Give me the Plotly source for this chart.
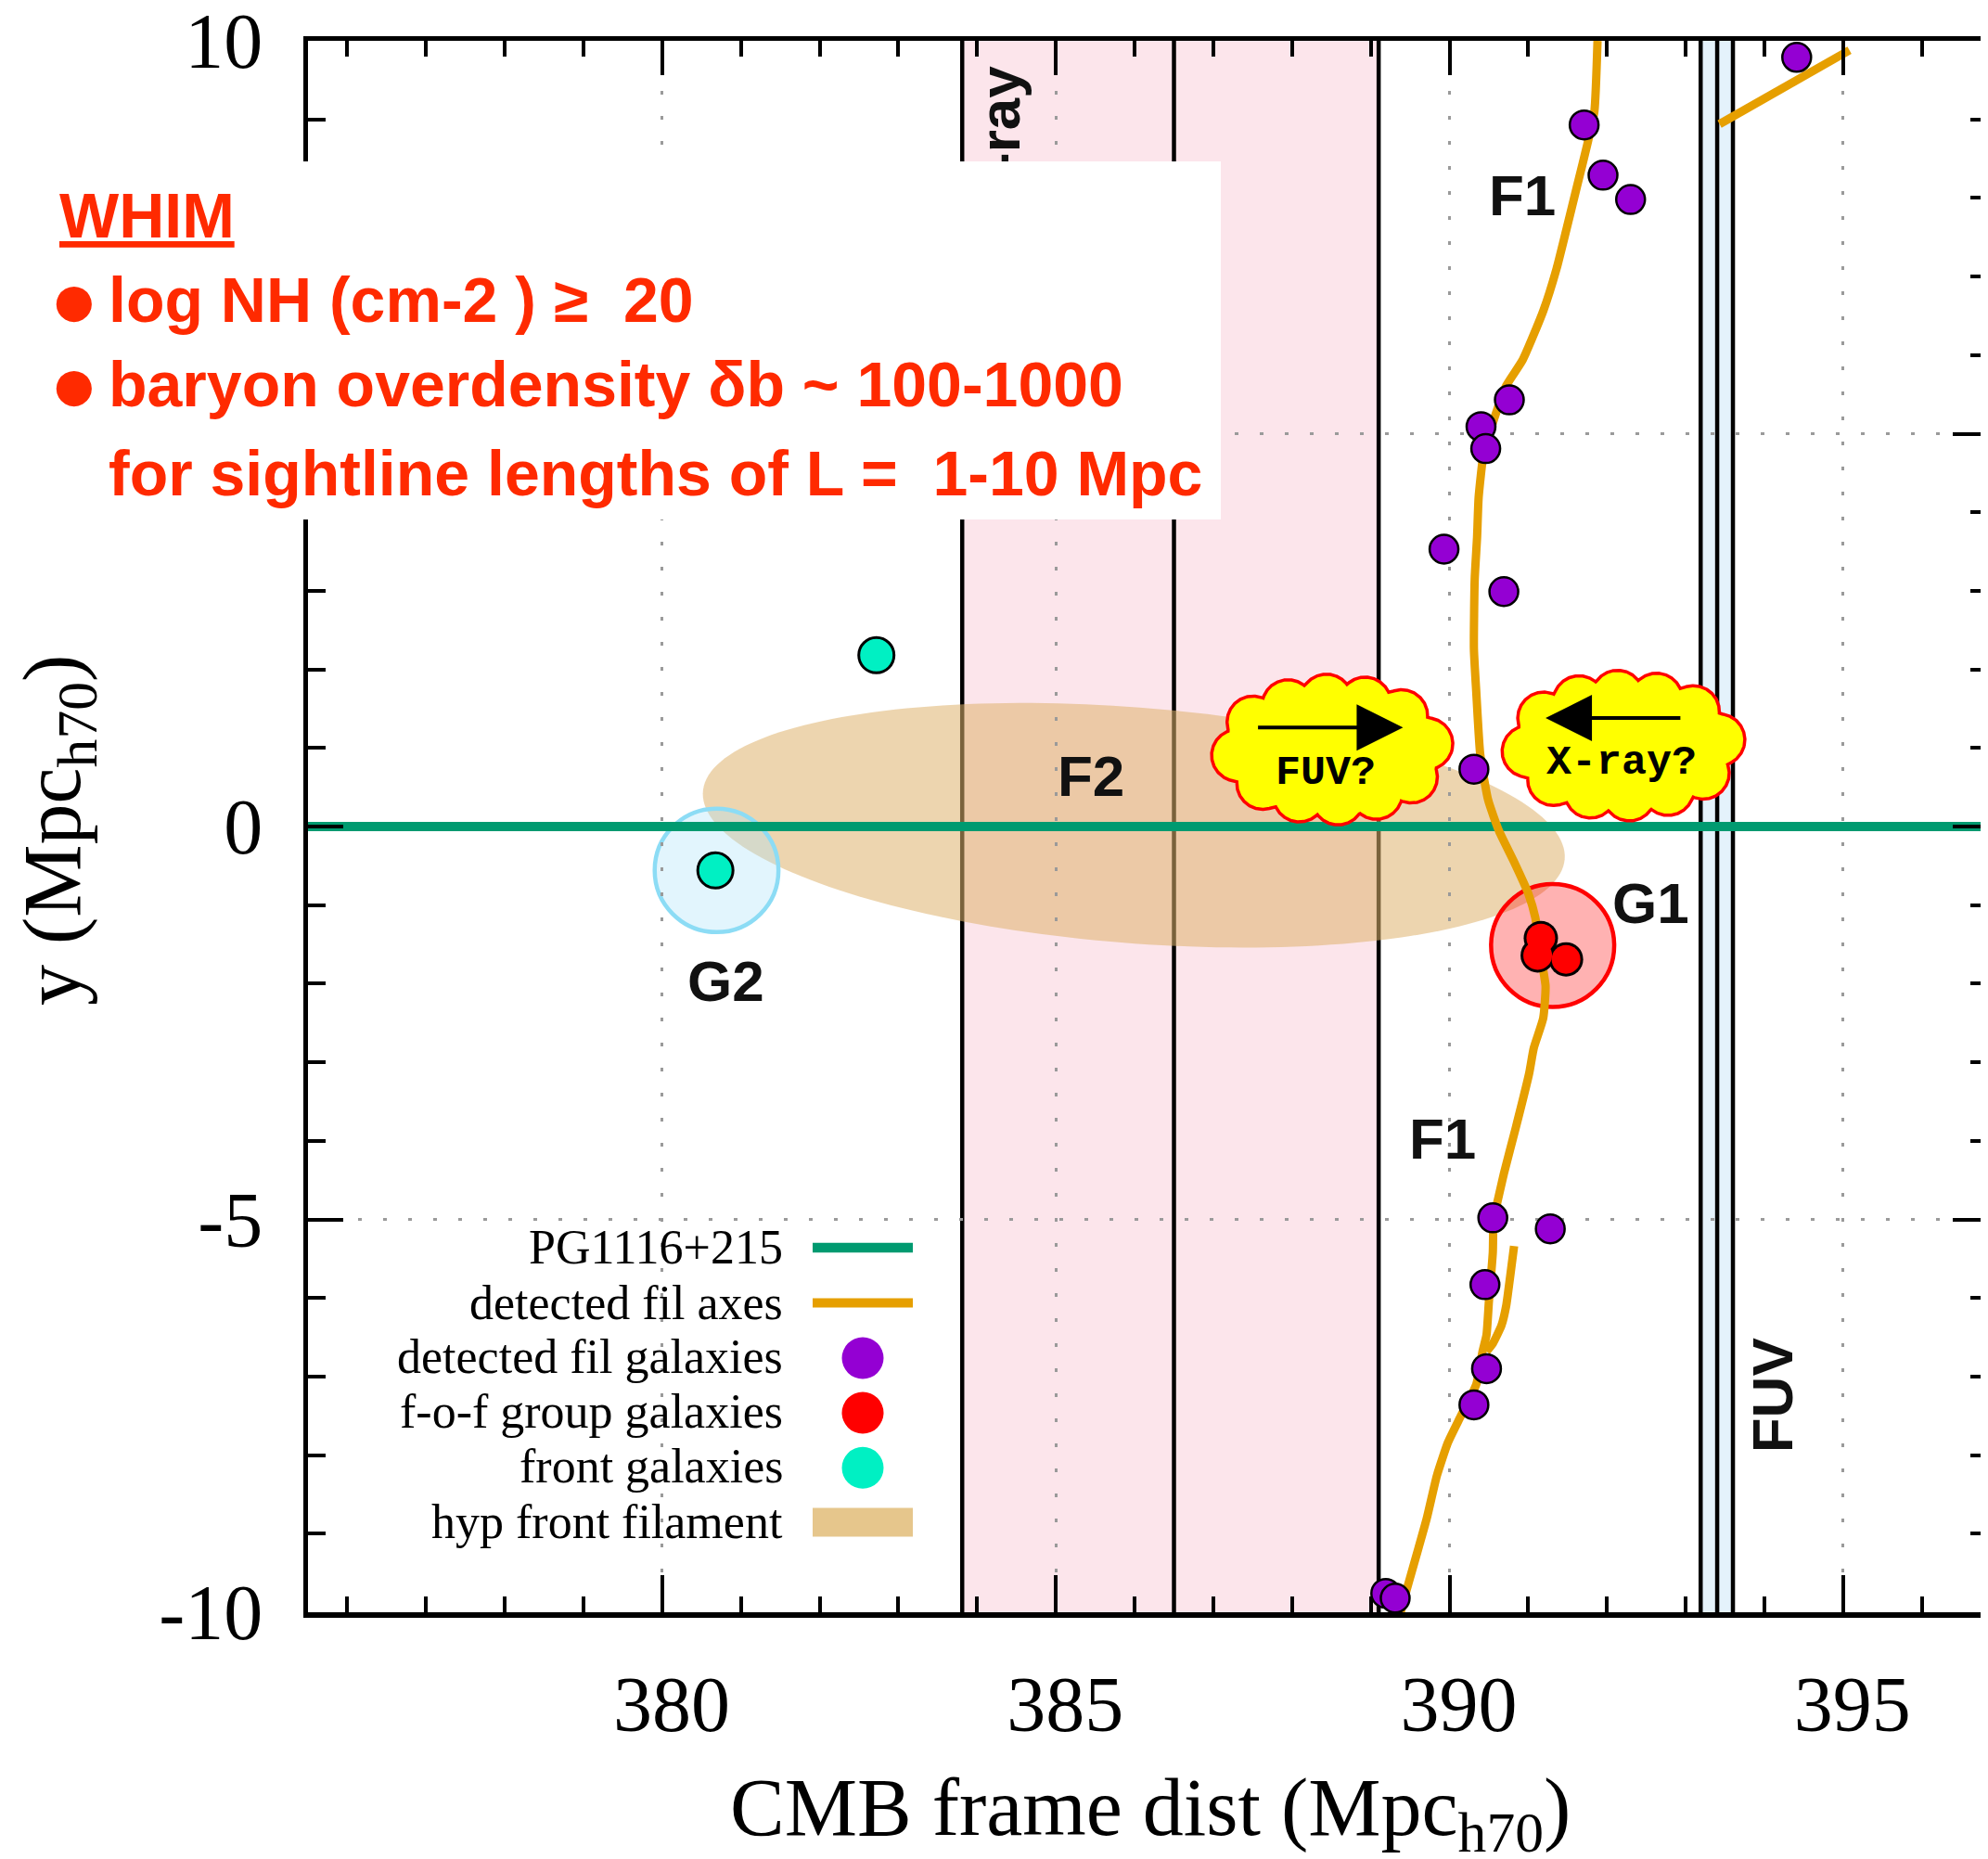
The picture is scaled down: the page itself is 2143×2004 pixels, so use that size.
import numpy as np
import plotly.graph_objects as go

# ---------------- data ----------------
x_range = [375.5, 396.84]
y_range = [-10, 10]
x_tick_vals = [380, 385, 390, 395]
x_tick_text = ["380", "385", "390", "395"]
y_tick_vals = [-10, -5, 0, 5, 10]
y_tick_text = ["-10", "-5", "0", "5", "10"]

# sightline of PG1116+215 at y = 0
sightline_y = 0.0

# detected filament axes (F1 main path, small branch, upper-right piece)
f1_x = [391.88, 391.84, 391.75, 391.62, 391.49, 391.36, 391.19, 390.93, 390.72, 390.59,
        390.50, 390.43, 390.37, 390.35, 390.32, 390.31, 390.34, 390.39, 390.49, 390.63,
        390.82, 391.00, 391.09, 391.16, 391.22, 391.19, 391.07, 391.01, 390.84, 390.69,
        390.61, 390.56, 390.55, 390.50, 390.47, 390.42, 390.34, 390.13, 389.98, 389.84,
        389.71, 389.57, 389.42, 389.38]
f1_y = [10.0, 9.10, 8.68, 8.15, 7.62, 7.10, 6.56, 5.94, 5.61, 5.26,
        4.98, 4.73, 4.19, 3.68, 3.15, 2.26, 1.71, 0.92, 0.34, -0.06,
        -0.45, -0.85, -1.16, -1.65, -2.03, -2.44, -2.82, -3.15, -3.84, -4.42,
        -4.77, -5.00, -5.42, -6.05, -6.47, -6.68, -7.10, -7.53, -7.84, -8.26,
        -8.81, -9.31, -9.84, -10.0]
branch_x = [390.82, 390.77, 390.72, 390.66, 390.55, 390.47]
branch_y = [-5.34, -5.73, -6.10, -6.35, -6.58, -6.68]
f3_x = [393.43, 395.08]
f3_y = [8.94, 9.88]

# detected filament galaxies
fil_gal_x = [394.41, 391.71, 391.95, 392.30, 390.76, 390.40, 390.46, 389.93, 390.69,
             390.31, 390.55, 391.28, 390.45, 390.47, 390.31, 389.19, 389.31]
fil_gal_y = [9.79, 8.93, 8.29, 7.98, 5.43, 5.09, 4.81, 3.53, 2.99,
             0.73, -4.98, -5.12, -5.83, -6.90, -7.36, -9.76, -9.82]

# friends-of-friends group galaxies (G1)
grp_gal_x = [391.16, 391.12, 391.48]
grp_gal_y = [-1.42, -1.64, -1.69]

# front galaxies
front_gal_x = [382.72, 380.675]
front_gal_y = [2.18, -0.558]

# group circles: (x, y, radius)
g1_circle = (391.31, -1.514, 0.782)
g2_circle = (380.69, -0.558, 0.786)

# hypothetical front filament ellipse: centre, semi-axes, tilt (deg)
hyp_center = (385.99, 0.016)
hyp_axes = (5.49, 1.50)
hyp_tilt = -4.5

# absorber bands / lines
xray_band = [383.81, 389.10]
fuv_band = [393.19, 393.60]
vlines = [383.81, 386.50, 389.10, 393.19, 393.40, 393.60]

# clouds: centre x, centre y, half width, half height
fuv_cloud = (388.51, 0.98, 1.54, 0.96)
xray_cloud = (392.21, 1.03, 1.55, 0.96)
fuv_arrow = dict(tail=387.55, head=389.41, y=1.26)
xray_arrow = dict(tail=392.95, head=391.22, y=1.38)

# text labels
labels = [("F1", 390.93, 8.04), ("F1", 389.91, -3.97), ("F2", 385.44, 0.64),
          ("G1", 392.56, -0.97), ("G2", 380.81, -1.97)]

legend_labels = ["PG1116+215", "detected fil axes", "detected fil galaxies",
                 "f-o-f group galaxies", "front galaxies", "hyp front filament"]

whim_lines = ["<u>WHIM</u>",
              "log NH (cm-2 ) ≥  20",
              "baryon overdensity δb ~ 100-1000",
              "for sightline lengths of L =  1-10 Mpc"]
whim_bullets = [False, True, True, False]

# ---------------- styling ----------------
GREEN = "#009a70"
ORANGE = "#e69f00"
PURPLE = "#9400d3"
RED = "#ff0000"
CYAN = "#00f0c3"
TAN_FILL = "rgba(222,178,110,0.55)"
TAN_SWATCH = "#e6c68c"
PINK = "#fce5eb"
LBLUE = "#e4f2fb"
WHIM_RED = "#ff2a00"

W, H = 2143, 2004
OFF = 8  # page body margin
ML, MT = 324, 36
PW, PH = 1811, 1694
MR = W - ML - PW
MB = H - MT - PH


def px(xp):
    """page pixel x -> paper x"""
    return (xp - OFF - ML) / PW


def py(yp):
    """page pixel y -> paper y"""
    return (MT + PH - (yp - OFF)) / PH


def cloud_outline(cx, cy, hx, hy, r=0.33, n=12, offset=0.15):
    A, B = hx - r, hy - r
    t = np.linspace(0, 2 * np.pi, 4000)
    ex, ey = A * np.cos(t), B * np.sin(t)
    s = np.concatenate([[0], np.cumsum(np.hypot(np.diff(ex), np.diff(ey)))])
    targ = (np.arange(n) / n + offset / n) * s[-1]
    bx, by = np.interp(targ, s, ex), np.interp(targ, s, ey)
    phi = np.linspace(0, 2 * np.pi, 1441)
    ux, uy = np.cos(phi), np.sin(phi)
    R = np.full_like(phi, -np.inf)
    for x0, y0 in zip(bx, by):
        p = ux * x0 + uy * y0
        disc = p ** 2 - (x0 ** 2 + y0 ** 2) + r ** 2
        tt = np.where(disc >= 0, p + np.sqrt(np.clip(disc, 0, None)), -np.inf)
        R = np.maximum(R, tt)
    return cx + R * ux, cy + R * uy


fig = go.Figure()

# sightline
fig.add_trace(go.Scatter(x=x_range, y=[sightline_y, sightline_y], mode="lines",
                         line=dict(color=GREEN, width=10), hoverinfo="skip"))
# filament axes
fx = f1_x + [None] + branch_x + [None] + f3_x
fy = f1_y + [None] + branch_y + [None] + f3_y
fig.add_trace(go.Scatter(x=fx, y=fy, mode="lines", connectgaps=False,
                         line=dict(color=ORANGE, width=9, shape="spline", smoothing=0.5),
                         hoverinfo="skip"))
# clouds
for cdef in (fuv_cloud, xray_cloud):
    cx_, cy_ = cloud_outline(*cdef)
    fig.add_trace(go.Scatter(x=cx_, y=cy_, mode="lines", fill="toself",
                             fillcolor="#ffff00", line=dict(color=RED, width=3.5),
                             hoverinfo="skip"))
# filament galaxies
fig.add_trace(go.Scatter(x=fil_gal_x, y=fil_gal_y, mode="markers",
                         marker=dict(color=PURPLE, size=31, line=dict(color="black", width=2.5)),
                         hoverinfo="skip"))
# group galaxies (union outline)
fig.add_trace(go.Scatter(x=grp_gal_x, y=grp_gal_y, mode="markers",
                         marker=dict(color="black", size=37), hoverinfo="skip"))
fig.add_trace(go.Scatter(x=grp_gal_x, y=grp_gal_y, mode="markers",
                         marker=dict(color=RED, size=31), hoverinfo="skip"))
# front galaxies (on overlay axes so top/right ticks exist)
fig.add_trace(go.Scatter(x=front_gal_x, y=front_gal_y, mode="markers", xaxis="x2", yaxis="y2",
                         marker=dict(color=CYAN, size=38, line=dict(color="black", width=3)),
                         hoverinfo="skip"))

shapes = []
shapes.append(dict(type="rect", xref="x", yref="y domain", x0=xray_band[0], x1=xray_band[1],
                   y0=0, y1=1, fillcolor=PINK, line=dict(width=0), layer="below"))
shapes.append(dict(type="rect", xref="x", yref="y domain", x0=fuv_band[0], x1=fuv_band[1],
                   y0=0, y1=1, fillcolor=LBLUE, line=dict(width=0), layer="below"))
# ellipse
tt = np.linspace(0, 2 * np.pi, 200)
th = np.deg2rad(hyp_tilt)
ex = hyp_center[0] + hyp_axes[0] * np.cos(tt) * np.cos(th) - hyp_axes[1] * np.sin(tt) * np.sin(th)
ey = hyp_center[1] + hyp_axes[0] * np.cos(tt) * np.sin(th) + hyp_axes[1] * np.sin(tt) * np.cos(th)
path = "M " + " L ".join(f"{a:.4f},{b:.4f}" for a, b in zip(ex, ey)) + " Z"
shapes.append(dict(type="path", xref="x", yref="y", path=path, fillcolor=TAN_FILL,
                   line=dict(width=0), layer="below"))
for xv in vlines:
    shapes.append(dict(type="line", xref="x", yref="y domain", x0=xv, x1=xv, y0=0, y1=1,
                       line=dict(color="black", width=4.5), layer="below"))
gx, gy, gr = g2_circle
shapes.append(dict(type="circle", xref="x", yref="y", x0=gx - gr, x1=gx + gr, y0=gy - gr, y1=gy + gr,
                   fillcolor="rgba(173,226,250,0.35)", line=dict(color="#8cdcf5", width=4.5),
                   layer="below"))
gx, gy, gr = g1_circle
shapes.append(dict(type="circle", xref="x", yref="y", x0=gx - gr, x1=gx + gr, y0=gy - gr, y1=gy + gr,
                   fillcolor="rgba(255,0,0,0.3)", line=dict(color=RED, width=4.5), layer="below"))

# manual legend symbols (right of text, gnuplot style)
leg_rows = [1345, 1404.5, 1464, 1523, 1582.3, 1641]
sx0, sx1, scx = 876, 984, 930
shapes.append(dict(type="line", xref="paper", yref="paper", x0=px(sx0), x1=px(sx1),
                   y0=py(leg_rows[0]), y1=py(leg_rows[0]), line=dict(color=GREEN, width=10.5),
                   layer="above"))
shapes.append(dict(type="line", xref="paper", yref="paper", x0=px(sx0), x1=px(sx1),
                   y0=py(leg_rows[1]), y1=py(leg_rows[1]), line=dict(color=ORANGE, width=10),
                   layer="above"))
for row, col in zip(leg_rows[2:5], [PURPLE, RED, CYAN]):
    shapes.append(dict(type="circle", xref="paper", yref="paper", xsizemode="pixel",
                       ysizemode="pixel", xanchor=px(scx), yanchor=py(row),
                       x0=-22.5, x1=22.5, y0=-22.5, y1=22.5, fillcolor=col,
                       line=dict(width=0), layer="above"))
shapes.append(dict(type="rect", xref="paper", yref="paper", x0=px(sx0), x1=px(sx1),
                   y0=py(leg_rows[5] + 15.5), y1=py(leg_rows[5] - 15.5), fillcolor=TAN_SWATCH,
                   line=dict(width=0), layer="above"))

annotations = []
bold = dict(family="Liberation Sans", size=62, color="#111111")
for txt, xv, yv in labels:
    annotations.append(dict(x=xv, y=yv, xref="x", yref="y", text=f"<b>{txt}</b>", showarrow=False,
                            xanchor="center", yanchor="middle", font=bold))
annotations.append(dict(x=394.10, y=-7.235, xref="x", yref="y", text="<b>FUV</b>", textangle=-90,
                        xanchor="center", yanchor="middle", showarrow=False, font=bold))
annotations.append(dict(x=384.28, y=8.77, xref="x", yref="y", text="<b>X-ray</b>", textangle=-90,
                        xanchor="center", yanchor="middle", showarrow=False, font=bold))
# cloud texts and arrows
mono = dict(family="Liberation Mono", size=45, color="black")
annotations.append(dict(x=388.43, y=0.68, xref="x", yref="y", text="<b>FUV?</b>", showarrow=False,
                        xanchor="center", yanchor="middle", font=mono))
annotations.append(dict(x=392.19, y=0.81, xref="x", yref="y", text="<b>X-ray?</b>", showarrow=False,
                        xanchor="center", yanchor="middle", font=mono))
for arr in (fuv_arrow, xray_arrow):
    annotations.append(dict(x=arr["head"], y=arr["y"], ax=arr["tail"], ay=arr["y"], xref="x", yref="y",
                            axref="x", ayref="y", text="", showarrow=True, arrowhead=2, arrowsize=2.5,
                            arrowwidth=4, arrowcolor="black", standoff=0, startstandoff=0))
# legend texts
leg_text_rows = [1344.2, 1404.2, 1462.5, 1521.8, 1580.8, 1640.8]
for lab, row in zip(legend_labels, leg_text_rows):
    annotations.append(dict(x=px(845), y=py(row), xref="paper", yref="paper", text=lab,
                            xanchor="right", yanchor="middle", showarrow=False, borderpad=0,
                            font=dict(family="Liberation Serif", size=52, color="black")))
# axis titles
annotations.append(dict(x=px(1240), y=py(1955), xref="paper", yref="paper",
                        xanchor="center", yanchor="middle",
                        text="CMB frame dist (Mpc<sub>h70</sub>)", showarrow=False,
                        font=dict(family="Liberation Serif", size=88, color="black")))
annotations.append(dict(x=px(63), y=py(895), xref="paper", yref="paper", textangle=-90,
                        xanchor="center", yanchor="middle",
                        text="y (Mpc<sub>h70</sub>)", showarrow=False,
                        font=dict(family="Liberation Serif", size=88, color="black")))
# WHIM white box (covers the upper-left part of the plot) and its text
annotations.append(dict(x=px(0), y=py(173.6), xref="paper", yref="paper", xanchor="left",
                        yanchor="top", text="&nbsp;", showarrow=False, bgcolor="white",
                        width=1316, height=386, borderpad=0, borderwidth=0,
                        font=dict(size=10, color="white")))
whim_x = [63, 116, 116, 116]
whim_y = [232.4, 322.9, 413.9, 510.4]
for txt, xx, yy, bul in zip(whim_lines, whim_x, whim_y, whim_bullets):
    annotations.append(dict(x=px(xx), y=py(yy), xref="paper", yref="paper", xanchor="left",
                            yanchor="middle", text=f"<b>{txt}</b>", showarrow=False, borderpad=0,
                            height=84,
                            font=dict(family="Liberation Sans", size=68, color=WHIM_RED)))
    if bul:
        annotations.append(dict(x=px(80), y=py(yy + 1), xref="paper", yref="paper",
                                xanchor="center", yanchor="middle", text="●", showarrow=False,
                                borderpad=0,
                                font=dict(family="DejaVu Sans", size=50, color=WHIM_RED)))

tickfont = dict(family="Liberation Serif", size=84, color="black")
grid = dict(showgrid=True, gridcolor="#9a9a9a", gridwidth=3, griddash="4px,23px")
minor_x = dict(dtick=1, tick0=0, ticks="inside", ticklen=17, tickwidth=4,
               tickcolor="black", showgrid=False)
minor_y = dict(dtick=1, tick0=0, ticks="inside", ticklen=19, tickwidth=4,
               tickcolor="black", showgrid=False)
fig.update_layout(
    width=W, height=H, margin=dict(l=ML, r=MR, t=MT, b=MB, pad=0, autoexpand=False),
    paper_bgcolor="white", plot_bgcolor="white", showlegend=False,
    shapes=shapes, annotations=annotations,
    xaxis=dict(range=x_range, showline=True, linewidth=6, linecolor="black", ticks="inside",
               ticklen=40, tickwidth=4, tickcolor="black", tickmode="array", tickvals=x_tick_vals,
               ticktext=x_tick_text, tickfont=tickfont, zeroline=False, ticklabelstandoff=21,
               ticklabelshift=10, ticklabeloverflow="allow", automargin=False,
               minor=minor_x, **grid),
    yaxis=dict(range=y_range, showline=True, linewidth=5, linecolor="black", ticks="inside",
               ticklen=38, tickwidth=4, tickcolor="black", tickmode="array", tickvals=y_tick_vals,
               ticktext=y_tick_text, tickfont=tickfont, zeroline=False, ticklabelstandoff=27,
               ticklabeloverflow="allow", automargin=False, minor=minor_y, **grid),
    xaxis2=dict(range=x_range, overlaying="x", side="top", showline=True, linewidth=5,
                linecolor="black", ticks="inside", ticklen=37, tickwidth=4, tickcolor="black",
                tickmode="array", tickvals=x_tick_vals, showticklabels=False, showgrid=False,
                zeroline=False, automargin=False, minor=minor_x),
    yaxis2=dict(range=y_range, overlaying="y", side="right", showline=False, ticks="inside",
                ticklen=38, tickwidth=4, tickcolor="black", tickmode="array", tickvals=y_tick_vals,
                showticklabels=False, showgrid=False, zeroline=False, automargin=False,
                minor=minor_y),
)

fig.write_html("out.html")
